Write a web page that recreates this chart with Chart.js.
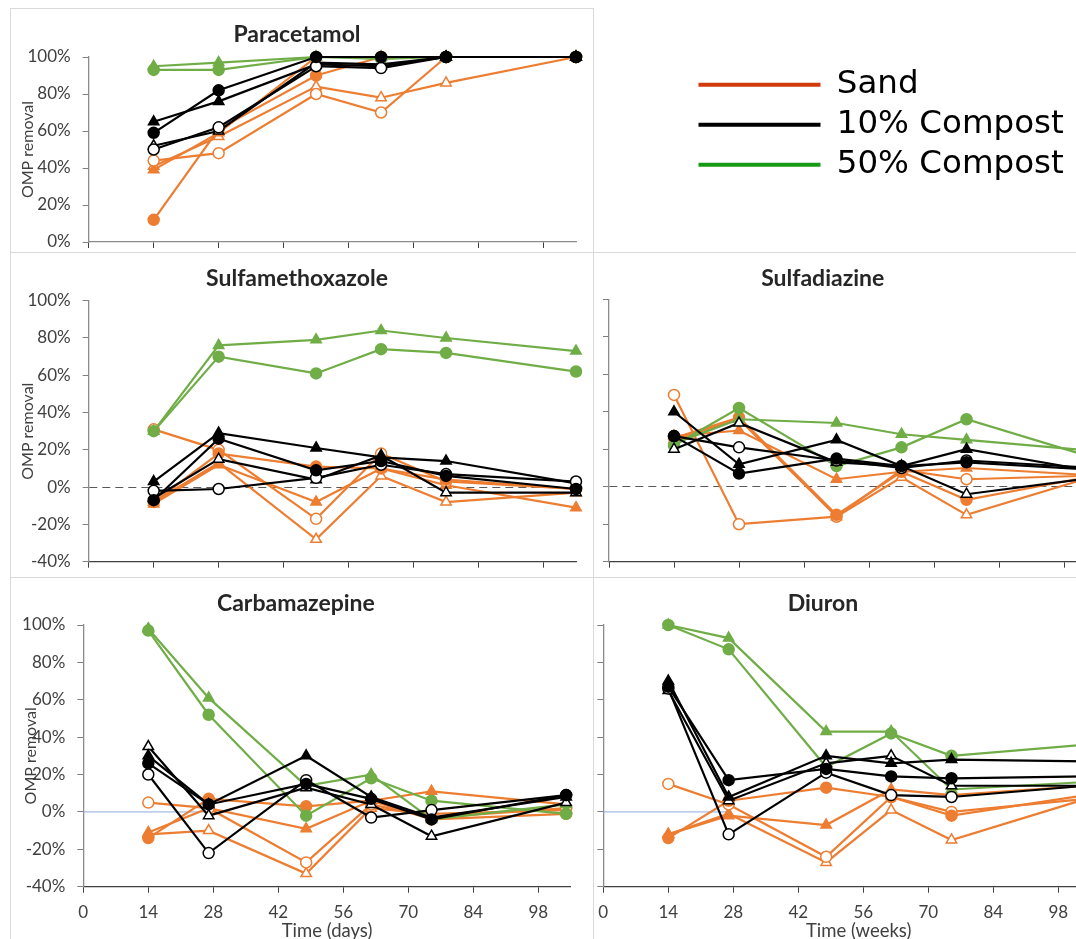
<!DOCTYPE html>
<html>
<head>
<meta charset="utf-8">
<script src="https://cdn.jsdelivr.net/npm/chart.js@4"></script>
<style>
  html, body { margin: 0; padding: 0; width: 1076px; height: 939px; overflow: hidden; background: #fff; }
  .rule { position: absolute; background: #d9d9d9; }
  .box { position: absolute; }
</style>
</head>
<body>
<div class="rule" style="left:10px; top:8px; width:583px; height:1px;"></div>
<div class="rule" style="left:10px; top:8px; width:1px; height:931px;"></div>
<div class="rule" style="left:593px; top:8px; width:1px; height:931px;"></div>
<div class="rule" style="left:10px; top:252px; width:1066px; height:1px;"></div>
<div class="rule" style="left:10px; top:577px; width:1066px; height:1px;"></div>

<div class="box" style="left:18px; top:8px; width:570px; height:257px;"><canvas id="chartParacetamol"></canvas></div>
<div class="box" style="left:18px; top:252px; width:570px; height:333px;"><canvas id="chartSulfamethoxazole"></canvas></div>
<div class="box" style="left:549px; top:252px; width:560px; height:320px;"><canvas id="chartSulfadiazine"></canvas></div>
<div class="box" style="left:21px; top:577px; width:567px; height:365px;"><canvas id="chartCarbamazepine"></canvas></div>
<div class="box" style="left:532px; top:577px; width:600px; height:365px;"><canvas id="chartDiuron"></canvas></div>
<div class="box" style="left:690.5px; top:61px; width:385px; height:140px;"><canvas id="chartLegend"></canvas></div>

<script>
// sampling times (days)
const daysTop = [14, 28, 49, 63, 77, 105];
const daysBottom = [14, 27, 48, 62, 75, 104];

// series order in every panel:
// Sand ●, Sand ○, Sand ▲, Sand △, 10% ●, 10% ○, 10% ▲, 10% △, 50% ●, 50% ▲
const seriesLabels = [
  "Sand ●", "Sand ○", "Sand ▲", "Sand △",
  "10% Compost ●", "10% Compost ○", "10% Compost ▲", "10% Compost △",
  "50% Compost ●", "50% Compost ▲",
];

// OMP removal (%)
const paracetamol = [
  [12, 61, 90, 100, 100, 100],
  [44, 48, 80, 70, 100, 100],
  [39, 59, 100, 100, 100, 100],
  [41, 57, 84, 78, 86, 100],
  [59, 82, 100, 100, 100, 100],
  [50, 62, 95, 94, 100, 100],
  [65, 76, 96, 95, 100, 100],
  [52, 60, 97, 96, 100, 100],
  [93, 93, 100, 99, 100, 100],
  [95, 97, 100, 100, 100, 100],
];

const sulfamethoxazole = [
  [-8, 18, 11, 10, 4, -1],
  [31, 20, -17, 18, 3, -1],
  [-9, 12, -8, 10, 1, -11],
  [-8, 13, -28, 6, -8, -3],
  [-7, 26, 9, 14, 6, -1],
  [-2, -1, 5, 12, 7, 3],
  [3, 29, 21, 16, 14, 2],
  [-6, 15, 4, 17, -3, -3],
  [30, 70, 61, 74, 72, 62],
  [30, 76, 79, 84, 80, 73],
];

const sulfadiazine = [
  [26, 37, -15, 8, -7, 6],
  [49, -20, -16, 9, 4, 6],
  [27, 30, 4, 8, 10, 6],
  [25, 36, -16, 5, -15, 6],
  [27, 7, 15, 11, 13, 9],
  [27, 21, 14, 10, 14, 10],
  [40, 12, 25, 11, 20, 8],
  [20, 34, 13, 11, -4, 5],
  [22, 42, 11, 21, 36, 15],
  [23, 36, 34, 28, 25, 19],
];

const carbamazepine = [
  [-14, 7, 3, 6, -4, -1],
  [5, 2, -27, 4, -3, 2],
  [-11, 2, -9, 6, 11, 4],
  [-12, -10, -33, 2, -1, 1],
  [26, 4, 15, 7, -4, 9],
  [20, -22, 17, -3, 1, 9],
  [30, 4, 30, 8, -3, 8],
  [35, -2, 13, 4, -13, 5],
  [97, 52, -2, 18, 6, -1],
  [98, 61, 14, 20, -4, 4],
];

const diuron = [
  [-14, 6, 13, 8, -2, 9],
  [15, 4, -24, 8, 0, 7],
  [-12, -2, -7, 12, 9, 14],
  [-12, -1, -27, 1, -15, 7],
  [67, 17, 23, 19, 18, 19],
  [66, -12, 21, 9, 8, 14],
  [70, 8, 30, 26, 28, 27],
  [65, 6, 26, 30, 14, 14],
  [100, 87, 24, 42, 30, 36],
  [100, 93, 43, 43, 12, 16],
];

// short light-blue stub along 0% in the lower panels
const zeroStub = [0, 27];

const legendNames = ["Sand", "10% Compost", "50% Compost"];

// styling
const orange = "#ED7D31";
const black = "#000000";
const green = "#70AD47";
const seriesColors = [orange, orange, orange, orange, black, black, black, black, green, green];
const seriesMarkers = ["circle", "circle", "triangle", "triangle", "circle", "circle", "triangle", "triangle", "circle", "triangle"];
const seriesOpen = [false, true, false, true, false, true, false, true, false, false];
const seriesOrder = [2, 2, 2, 2, 0, 0, 0, 0, 1, 1];
const legendColors = ["#D13B0C", "#000000", "#169A16"];

const tickFont = { family: "Lato", size: 17 };
const axisTitleFont = { family: "Lato", size: 16 };
const xTitleFont = { family: "Lato", size: 18.5 };
const textColor = "#404040";

function buildDatasets(days, rows, stub) {
  const sets = rows.map((vals, i) => ({
    label: seriesLabels[i],
    data: days.map((d, j) => ({ x: d, y: vals[j] })),
    borderColor: seriesColors[i],
    borderWidth: 2.2,
    pointStyle: seriesMarkers[i],
    pointRadius: seriesMarkers[i] === "triangle" ? 6 : 5.5,
    pointBackgroundColor: seriesOpen[i] ? "#ffffff" : seriesColors[i],
    pointBorderColor: seriesColors[i],
    pointBorderWidth: 1.5,
    order: seriesOrder[i],
    clip: false,
  }));
  if (stub) {
    sets.push({
      label: "0%",
      data: zeroStub.map((d) => ({ x: d, y: 0 })),
      borderColor: "#8FAADC",
      borderWidth: 1,
      pointRadius: 0,
      order: 3,
    });
  }
  return sets;
}

function panelChart(id, o) {
  return new Chart(document.getElementById(id), {
    type: "line",
    data: { datasets: buildDatasets(o.days, o.rows, o.stub) },
    options: {
      responsive: true,
      maintainAspectRatio: false,
      animation: false,
      layout: { padding: { left: 0, right: o.padRight, top: 0, bottom: 0 } },
      plugins: {
        legend: { display: false },
        tooltip: { enabled: false },
        title: {
          display: true,
          text: o.title,
          color: "#262626",
          font: { family: "Lato", size: 23, weight: "bold" },
          padding: { top: o.titleTop, bottom: o.titleBottom },
        },
      },
      scales: {
        x: {
          type: "linear",
          min: 0,
          max: o.xMax,
          afterFit: (s) => { s.height = o.xHeight; },
          ticks: { stepSize: 14, includeBounds: false, display: o.xLabels, padding: 9.4, font: tickFont, color: textColor },
          grid: { drawOnChartArea: false, tickLength: 6, tickColor: "#404040" },
          border: { color: o.xBorder, width: 1.3 },
          title: { display: o.xLabels, text: o.xTitle, padding: 0, font: xTitleFont, color: textColor },
        },
        y: {
          min: o.yMin,
          max: 100,
          afterFit: (s) => { s.width = o.yWidth; },
          ticks: { stepSize: 20, display: o.yLabels, padding: 12, font: tickFont, color: textColor, callback: (v) => v + "%" },
          grid: {
            color: (c) => (o.zeroDash && c.tick && c.tick.value === 0 ? "#595959" : "rgba(0,0,0,0)"),
            tickColor: "#7f7f7f",
            tickLength: 6,
            lineWidth: 1,
          },
          border: { color: "#8c8c8c", width: 1.3, dash: [8, 5] },
          title: { display: o.yLabels, text: "OMP removal", padding: 0, font: axisTitleFont, color: textColor },
        },
      },
    },
  });
}

panelChart("chartParacetamol", {
  title: "Paracetamol", days: daysTop, rows: paracetamol, stub: false,
  padRight: 12, titleTop: 13.2, titleBottom: 8.2,
  xMax: 105, xHeight: 23, xLabels: false, xBorder: "#8c8c8c", xTitle: "",
  yMin: 0, yWidth: 70.7, yLabels: true, zeroDash: false,
});

panelChart("chartSulfamethoxazole", {
  title: "Sulfamethoxazole", days: daysTop, rows: sulfamethoxazole, stub: false,
  padRight: 12, titleTop: 13.2, titleBottom: 7.9,
  xMax: 105, xHeight: 23.3, xLabels: false, xBorder: "#404040", xTitle: "",
  yMin: -40, yWidth: 70.7, yLabels: true, zeroDash: true,
});

panelChart("chartSulfadiazine", {
  title: "Sulfadiazine", days: daysTop, rows: sulfadiazine, stub: false,
  padRight: 12.5, titleTop: 12.9, titleBottom: 6.8,
  xMax: 105, xHeight: 10.3, xLabels: false, xBorder: "#404040", xTitle: "",
  yMin: -40, yWidth: 60, yLabels: false, zeroDash: true,
});

panelChart("chartCarbamazepine", {
  title: "Carbamazepine", days: daysBottom, rows: carbamazepine, stub: true,
  padRight: 17.2, titleTop: 13.2, titleBottom: 7.2,
  xMax: 105, xHeight: 55.3, xLabels: true, xBorder: "#404040", xTitle: "Time (days)",
  yMin: -40, yWidth: 62.3, yLabels: true, zeroDash: false,
});

panelChart("chartDiuron", {
  title: "Diuron", days: daysBottom, rows: diuron, stub: true,
  padRight: 18, titleTop: 13.2, titleBottom: 7.2,
  xMax: 110, xHeight: 55.3, xLabels: true, xBorder: "#404040", xTitle: "Time (weeks)",
  yMin: -40, yWidth: 71.3, yLabels: false, zeroDash: false,
});

new Chart(document.getElementById("chartLegend"), {
  type: "line",
  data: {
    datasets: legendNames.map((name, i) => ({
      label: name,
      data: [],
      borderColor: legendColors[i],
      backgroundColor: legendColors[i],
      borderWidth: 0,
    })),
  },
  options: {
    responsive: true,
    maintainAspectRatio: false,
    animation: false,
    scales: { x: { display: false }, y: { display: false } },
    plugins: {
      tooltip: { enabled: false },
      legend: {
        position: "left",
        align: "start",
        maxWidth: 385,
        labels: {
          boxWidth: 122,
          boxHeight: 4,
          padding: 7.5,
          color: "#000000",
          font: { family: "DejaVu Sans", size: 32.5 },
        },
      },
    },
  },
});
</script>
</body>
</html>
